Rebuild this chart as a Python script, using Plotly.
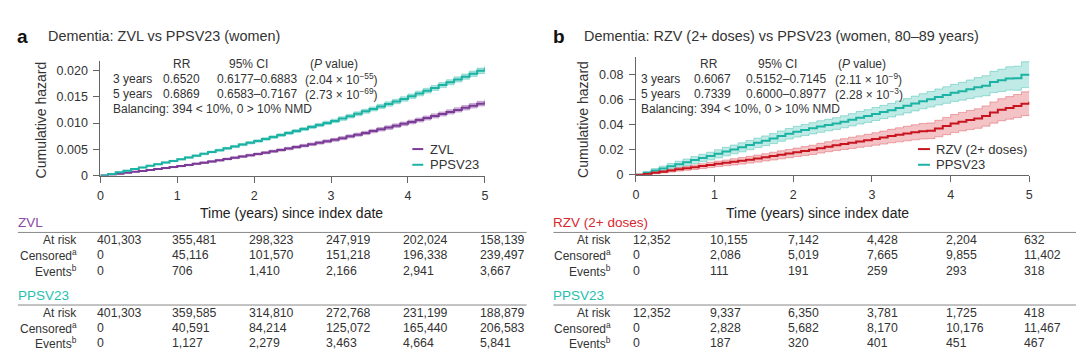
import plotly.graph_objects as go

W, H = 1080, 364
def px(x): return x / W
def py(y): return 1 - y / H

FONT = "Liberation Sans, Arial, sans-serif"
TXT = "#333333"
AX = "#666666"

# ---------------- data ----------------
time_years = [0.0,
              0.1, 0.2, 0.3, 0.4, 0.5, 0.6, 0.7, 0.8, 0.9, 1.0,
              1.1, 1.2, 1.3, 1.4, 1.5, 1.6, 1.7, 1.8, 1.9, 2.0,
              2.1, 2.2, 2.3, 2.4, 2.5, 2.6, 2.7, 2.8, 2.9, 3.0,
              3.1, 3.2, 3.3, 3.4, 3.5, 3.6, 3.7, 3.8, 3.9, 4.0,
              4.1, 4.2, 4.3, 4.4, 4.5, 4.6, 4.7, 4.8, 4.9, 5.0]

# panel a
zvl_cumhaz = [0.0,
              0.00017, 0.00035, 0.00054, 0.00071, 0.00089, 0.00106, 0.00125, 0.00143, 0.00161, 0.00180,
              0.00201, 0.00224, 0.00246, 0.00268, 0.00291, 0.00316, 0.00339, 0.00363, 0.00387, 0.00410,
              0.00435, 0.00462, 0.00488, 0.00514, 0.00542, 0.00569, 0.00596, 0.00625, 0.00652, 0.00680,
              0.00712, 0.00746, 0.00779, 0.00811, 0.00846, 0.00880, 0.00913, 0.00949, 0.00985, 0.01020,
              0.01057, 0.01096, 0.01135, 0.01172, 0.01211, 0.01250, 0.01290, 0.01329, 0.01368, 0.01410]
zvl_ci_half = [0.0,
               0.00003, 0.00005, 0.00006, 0.00007, 0.00008, 0.00009, 0.00010, 0.00011, 0.00012, 0.00013,
               0.00014, 0.00015, 0.00016, 0.00017, 0.00017, 0.00018, 0.00019, 0.00020, 0.00020, 0.00021,
               0.00022, 0.00023, 0.00023, 0.00024, 0.00025, 0.00026, 0.00026, 0.00027, 0.00028, 0.00029,
               0.00030, 0.00030, 0.00031, 0.00032, 0.00033, 0.00034, 0.00034, 0.00035, 0.00036, 0.00037,
               0.00038, 0.00039, 0.00040, 0.00040, 0.00041, 0.00042, 0.00043, 0.00044, 0.00045, 0.00046]
ppsv_a_cumhaz = [0.0,
                 0.00030, 0.00061, 0.00093, 0.00123, 0.00154, 0.00185, 0.00217, 0.00248, 0.00278, 0.00310,
                 0.00345, 0.00379, 0.00413, 0.00449, 0.00484, 0.00518, 0.00554, 0.00590, 0.00623, 0.00658,
                 0.00696, 0.00733, 0.00770, 0.00809, 0.00847, 0.00885, 0.00925, 0.00963, 0.01002, 0.01040,
                 0.01085, 0.01130, 0.01177, 0.01223, 0.01268, 0.01316, 0.01362, 0.01410, 0.01459, 0.01510,
                 0.01562, 0.01616, 0.01668, 0.01722, 0.01776, 0.01829, 0.01882, 0.01938, 0.01993, 0.02050]
ppsv_a_ci_half = [0.0,
                  0.00004, 0.00006, 0.00007, 0.00008, 0.00009, 0.00010, 0.00011, 0.00012, 0.00013, 0.00014,
                  0.00015, 0.00016, 0.00017, 0.00018, 0.00019, 0.00020, 0.00021, 0.00022, 0.00023, 0.00024,
                  0.00025, 0.00026, 0.00027, 0.00028, 0.00029, 0.00030, 0.00031, 0.00032, 0.00033, 0.00034,
                  0.00035, 0.00036, 0.00037, 0.00038, 0.00039, 0.00040, 0.00041, 0.00042, 0.00043, 0.00044,
                  0.00045, 0.00046, 0.00047, 0.00048, 0.00049, 0.00050, 0.00051, 0.00052, 0.00053, 0.00054]

# panel b
rzv_cumhaz = [0.0,
              0.0007, 0.0016, 0.0025, 0.0034, 0.0044, 0.0052, 0.0061, 0.0070, 0.0079, 0.0088,
              0.0096, 0.0104, 0.0112, 0.0121, 0.0130, 0.0140, 0.0150, 0.0160, 0.0170, 0.0180,
              0.0190, 0.0200, 0.0213, 0.0225, 0.0236, 0.0246, 0.0256, 0.0266, 0.0276, 0.0287,
              0.0298, 0.0310, 0.0320, 0.0330, 0.0340, 0.0348, 0.0352, 0.0370, 0.0390, 0.0410,
              0.0425, 0.0438, 0.0450, 0.0470, 0.0498, 0.0520, 0.0535, 0.0550, 0.0568, 0.0585]
rzv_ci_half = [0.0,
               0.0005, 0.0008, 0.0010, 0.0012, 0.0014, 0.0016, 0.0018, 0.0019, 0.0021, 0.0022,
               0.0023, 0.0025, 0.0026, 0.0027, 0.0028, 0.0029, 0.0031, 0.0032, 0.0033, 0.0034,
               0.0036, 0.0037, 0.0039, 0.0040, 0.0042, 0.0043, 0.0045, 0.0046, 0.0048, 0.0050,
               0.0052, 0.0054, 0.0056, 0.0058, 0.0060, 0.0062, 0.0063, 0.0066, 0.0069, 0.0072,
               0.0074, 0.0076, 0.0078, 0.0081, 0.0085, 0.0088, 0.0090, 0.0092, 0.0095, 0.0098]
ppsv_b_cumhaz = [0.0,
                 0.0016, 0.0034, 0.0050, 0.0068, 0.0085, 0.0101, 0.0118, 0.0135, 0.0150, 0.0168,
                 0.0186, 0.0203, 0.0220, 0.0238, 0.0256, 0.0272, 0.0290, 0.0310, 0.0328, 0.0345,
                 0.0358, 0.0372, 0.0386, 0.0398, 0.0410, 0.0424, 0.0440, 0.0456, 0.0470, 0.0486,
                 0.0502, 0.0516, 0.0534, 0.0552, 0.0570, 0.0588, 0.0604, 0.0622, 0.0638, 0.0655,
                 0.0668, 0.0684, 0.0700, 0.0712, 0.0742, 0.0755, 0.0770, 0.0772, 0.0800, 0.0805]
ppsv_b_ci_half = [0.0,
                  0.0011, 0.0016, 0.0019, 0.0022, 0.0024, 0.0026, 0.0028, 0.0030, 0.0031, 0.0033,
                  0.0034, 0.0035, 0.0036, 0.0037, 0.0038, 0.0039, 0.0040, 0.0041, 0.0042, 0.0043,
                  0.0044, 0.0045, 0.0046, 0.0046, 0.0047, 0.0048, 0.0049, 0.0050, 0.0051, 0.0052,
                  0.0053, 0.0054, 0.0056, 0.0057, 0.0059, 0.0060, 0.0062, 0.0064, 0.0066, 0.0068,
                  0.0071, 0.0074, 0.0077, 0.0080, 0.0085, 0.0089, 0.0093, 0.0096, 0.0103, 0.0108]

# risk tables
table_times = [0, 1, 2, 3, 4, 5]
zvl_at_risk = [401303, 355481, 298323, 247919, 202024, 158139]
zvl_censored = [0, 45116, 101570, 151218, 196338, 239497]
zvl_events = [0, 706, 1410, 2166, 2941, 3667]
ppsv_a_at_risk = [401303, 359585, 314810, 272768, 231199, 188879]
ppsv_a_censored = [0, 40591, 84214, 125072, 165440, 206583]
ppsv_a_events = [0, 1127, 2279, 3463, 4664, 5841]
rzv_at_risk = [12352, 10155, 7142, 4428, 2204, 632]
rzv_censored = [0, 2086, 5019, 7665, 9855, 11402]
rzv_events = [0, 111, 191, 259, 293, 318]
ppsv_b_at_risk = [12352, 9337, 6350, 3781, 1725, 418]
ppsv_b_censored = [0, 2828, 5682, 8170, 10176, 11467]
ppsv_b_events = [0, 187, 320, 401, 451, 467]

# stats text
stat_header = ["RR", "95% CI", "(<i>P</i> value)"]
stats_a = [["3 years", "0.6520", "0.6177–0.6883", "(2.04 × 10<sup>−55</sup>)"],
           ["5 years", "0.6869", "0.6583–0.7167", "(2.73 × 10<sup>−69</sup>)"]]
stats_b = [["3 years", "0.6067", "0.5152–0.7145", "(2.11 × 10<sup>−9</sup>)"],
           ["5 years", "0.7339", "0.6000–0.8977", "(2.28 × 10<sup>−3</sup>)"]]
balancing = "Balancing: 394 < 10%, 0 > 10% NMD"
y_ticks_a = [0, 0.005, 0.010, 0.015, 0.020]
y_ticklabels_a = ["0", "0.005", "0.010", "0.015", "0.020"]
y_ticks_b = [0, 0.02, 0.04, 0.06, 0.08]
y_ticklabels_b = ["0", "0.02", "0.04", "0.06", "0.08"]
x_ticks = [0, 1, 2, 3, 4, 5]

PURPLE = "#7b3b97"
TEAL = "#1bb3a3"
RED = "#c8141f"

fig = go.Figure()

def add_curve(xa, ya, y, half, color, band, edge):
    upper = [v + h for v, h in zip(y, half)]
    lower = [max(v - h, 0) for v, h in zip(y, half)]
    fig.add_trace(go.Scatter(x=time_years, y=upper, mode="lines", xaxis=xa, yaxis=ya,
                             line=dict(color=edge, width=0.7, shape="hv"),
                             showlegend=False, hoverinfo="skip"))
    fig.add_trace(go.Scatter(x=time_years, y=lower, mode="lines", xaxis=xa, yaxis=ya,
                             line=dict(color=edge, width=0.7, shape="hv"),
                             fill="tonexty", fillcolor=band,
                             showlegend=False, hoverinfo="skip"))
    fig.add_trace(go.Scatter(x=time_years, y=y, mode="lines", xaxis=xa, yaxis=ya,
                             line=dict(color=color, width=2, shape="hv"),
                             showlegend=False))

add_curve("x", "y", zvl_cumhaz, zvl_ci_half, PURPLE, "rgba(123,59,151,0.35)", "rgba(123,59,151,0.45)")
add_curve("x", "y", ppsv_a_cumhaz, ppsv_a_ci_half, TEAL, "rgba(27,179,163,0.35)", "rgba(27,179,163,0.45)")
add_curve("x2", "y2", ppsv_b_cumhaz, ppsv_b_ci_half, TEAL, "rgba(27,179,163,0.28)", "rgba(27,179,163,0.55)")
add_curve("x2", "y2", rzv_cumhaz, rzv_ci_half, RED, "rgba(215,40,50,0.28)", "rgba(215,40,50,0.5)")

axis_common = dict(showline=True, linecolor=AX, linewidth=1, ticks="outside", ticklen=6,
                   tickcolor=AX, tickfont=dict(size=12.5, color=TXT, family=FONT),
                   showgrid=False, zeroline=False, fixedrange=True)

fig.update_layout(
    width=W, height=H, margin=dict(l=0, r=0, t=0, b=0),
    paper_bgcolor="white", plot_bgcolor="white",
    font=dict(family=FONT, color=TXT, size=12),
    showlegend=False,
    xaxis=dict(domain=[px(98), px(485)], range=[0, 5], anchor="y", tickvals=x_ticks,
               ticklabelstandoff=2, **axis_common),
    yaxis=dict(domain=[py(179), py(61.7)], range=[0, 0.0219], anchor="x",
               tickvals=y_ticks_a, ticktext=y_ticklabels_a, ticklabelstandoff=3, **axis_common),
    xaxis2=dict(domain=[px(637), px(1033)], range=[0, 5], anchor="y2", tickvals=x_ticks,
                ticklabelstandoff=2, **axis_common),
    yaxis2=dict(domain=[py(178.3), py(58.3)], range=[0, 0.094], anchor="x2",
                tickvals=y_ticks_b, ticktext=y_ticklabels_b, ticklabelstandoff=3, **axis_common),
)

ann = []
shapes = []

def text(x, y, s, size=12, anchor="left", color=TXT, xref="paper", xshift=0, angle=0):
    ann.append(dict(x=x if xref != "paper" else px(x), y=py(y), xref=xref, yref="paper", text=s,
                    showarrow=False, xanchor=anchor, yanchor="middle", xshift=xshift,
                    textangle=angle, font=dict(size=size, color=color, family=FONT)))

def hline(x0, x1, y, color, width=1):
    shapes.append(dict(type="line", xref="paper", yref="paper", x0=px(x0), x1=px(x1),
                       y0=py(y), y1=py(y), line=dict(color=color, width=width)))

# titles
text(12, 37, "<b>a</b>", size=19, color="#111")
text(43, 37, "Dementia: ZVL vs PPSV23 (women)", size=14.4)
text(552, 37, "<b>b</b>", size=19, color="#111")
text(583, 37, "Dementia: RZV (2+ doses) vs PPSV23 (women, 80–89 years)", size=14.4)

# y titles
text(38, 122, "Cumulative hazard", size=14, anchor="center", angle=-90)
text(583, 122, "Cumulative hazard", size=14, anchor="center", angle=-90)

# stats blocks
def stats_block(hdr_x, col_x, rows):
    for hx, h in zip(hdr_x, stat_header):
        text(hx, 65, h, anchor="center")
    for ry, row in zip([81, 96], rows):
        for cx, s in zip(col_x, row):
            text(cx, ry, s)
    text(col_x[0], 111, balancing)

stats_block([180, 247, 333], [109, 159, 213, 302], stats_a)
stats_block([711, 780, 865], [640, 693, 746, 835], stats_b)

# legends
hline(412, 423, 152, PURPLE, 2)
text(428, 152, "ZVL", size=13)
hline(412, 423, 168, TEAL, 2)
text(428, 168, "PPSV23", size=13)
hline(921, 933, 152, RED, 2)
text(937, 152, "RZV (2+ doses)", size=13)
hline(921, 933, 168, TEAL, 2)
text(937, 168, "PPSV23", size=13)

# x titles
text(290, 217, "Time (years) since index date", size=14, anchor="center", color="#222")
text(820, 217, "Time (years) since index date", size=14, anchor="center", color="#222")

# risk tables
row_names = ["At risk", "Censored<sup>a</sup>", "Events<sup>b</sup>"]

def table(xref, label_x, line_x0, line_x1, title_x, groups):
    for (gname, gcolor, gy, rows) in groups:
        text(title_x, gy, gname, size=13.5, color=gcolor)
        hline(line_x0, line_x1, gy + 10, "#888888", 1)
        for i, (rname, vals) in enumerate(zip(row_names, rows)):
            ry = gy + 18 + i * 15.5
            text(label_x, ry, rname, size=12, anchor="right")
            for t, v in zip(table_times, vals):
                text(t, ry, f"{v:,}", size=12.3, xref=xref, xshift=-7 if t else -5)

table("x", 76, 15, 527, 13,
      [("ZVL", "#8a4aa8", 227, [zvl_at_risk, zvl_censored, zvl_events]),
       ("PPSV23", "#26bfae", 301, [ppsv_a_at_risk, ppsv_a_censored, ppsv_a_events])])
table("x2", 614, 554, 1080, 552,
      [("RZV (2+ doses)", "#d8282f", 227, [rzv_at_risk, rzv_censored, rzv_events]),
       ("PPSV23", "#26bfae", 301, [ppsv_b_at_risk, ppsv_b_censored, ppsv_b_events])])

fig.update_layout(annotations=ann, shapes=shapes)
fig.write_html("out.html")
